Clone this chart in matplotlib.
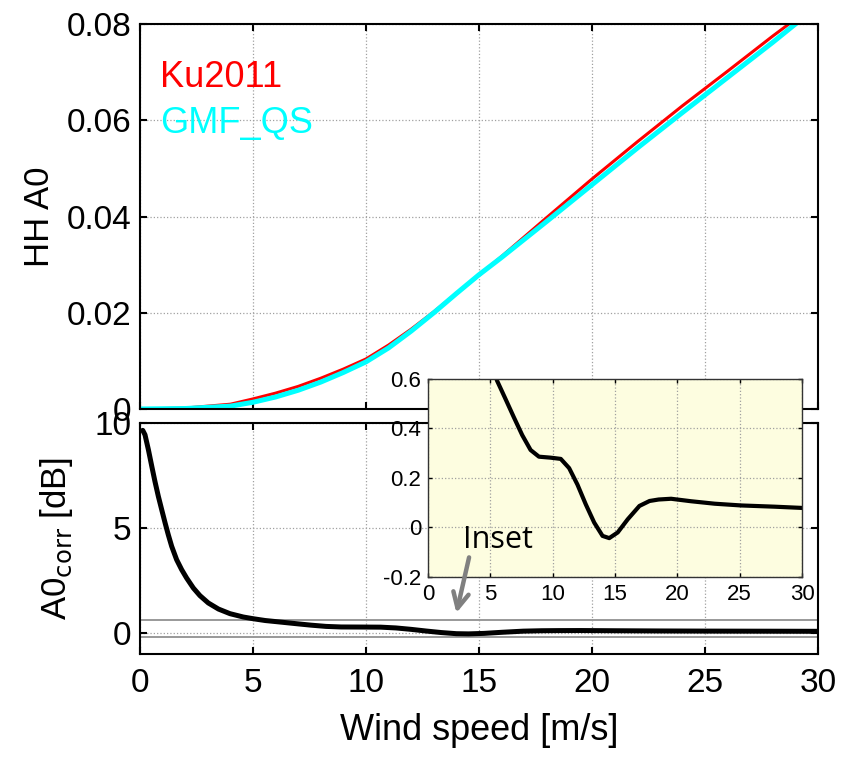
import matplotlib
matplotlib.use("Agg")
import matplotlib.pyplot as plt

plt.rcParams["font.family"] = ["Liberation Sans", "DejaVu Sans"]

# HH A0 coefficient vs wind speed
wind_hh = [0, 2, 4, 5, 6, 7, 8, 9, 10, 11, 12, 13, 14, 15, 16, 18, 20, 22, 24, 26, 28, 29, 30]
a0_ku2011 = [0.0, 0.0002, 0.0010, 0.0021, 0.0033, 0.0047, 0.0064, 0.0083, 0.0104, 0.0133,
             0.0166, 0.0202, 0.0240, 0.0278, 0.0317, 0.0398, 0.0478, 0.0555, 0.0630, 0.0702,
             0.0775, 0.0810, 0.0845]
a0_gmf_qs = [0.0, 0.0001, 0.0006, 0.0014, 0.0025, 0.0039, 0.0056, 0.0076, 0.0098, 0.0127,
             0.0162, 0.0200, 0.0240, 0.0279, 0.0315, 0.0390, 0.0466, 0.0542, 0.0616, 0.0689,
             0.0762, 0.0800, 0.0835]

# A0 correction [dB]
wind_corr = [0.12, 0.22, 0.37, 0.52, 0.66, 0.81, 0.96, 1.11, 1.25, 1.4, 1.62, 1.84, 2.06,
             2.36, 2.65, 3.02, 3.47, 3.98, 4.57, 5.0, 5.54, 6.21, 6.88, 7.56, 8.23, 8.9,
             9.84, 10.65, 11.32, 11.99, 12.66, 13.33, 14.0, 14.54, 15.22, 16.02, 16.96,
             17.77, 18.5, 19.5, 21.1, 23.0, 25.1, 27.8, 30.0]
a0_corr = [9.65, 9.44, 8.73, 7.94, 7.22, 6.51, 5.87, 5.24, 4.68, 4.13, 3.49, 3.02, 2.62,
           2.14, 1.78, 1.43, 1.14, 0.92, 0.76, 0.68, 0.593, 0.52, 0.446, 0.373, 0.313, 0.286,
           0.282, 0.277, 0.24, 0.173, 0.093, 0.02, -0.034, -0.043, -0.02, 0.033, 0.087,
           0.107, 0.113, 0.116, 0.106, 0.096, 0.089, 0.084, 0.079]

inset_range = [-0.2, 0.6]

x_ticks = [0, 5, 10, 15, 20, 25, 30]
hh_ticks = [0, 0.02, 0.04, 0.06, 0.08]
hh_labels = ["0", "0.02", "0.04", "0.06", "0.08"]
corr_ticks = [0, 5, 10]
inset_yticks = [-0.2, 0, 0.2, 0.4, 0.6]
inset_ylabels = ["-0.2", "0", "0.2", "0.4", "0.6"]


def matlab_style(ax, labelsize, width=1.5):
    ax.grid(True, linestyle=":", color="#a0a0a0", linewidth=0.9)
    ax.tick_params(axis="both", which="major", direction="in", top=True, right=True,
                   labelsize=labelsize, length=5, width=width, pad=6)
    for s in ax.spines.values():
        s.set_linewidth(width)


fig = plt.figure(figsize=(8.42, 7.57), dpi=100)

ax1 = fig.add_axes([0.1663, 0.4597, 0.8052, 0.5086])
ax1.plot(wind_hh, a0_ku2011, color="red", linewidth=2.2, solid_joinstyle="round")
ax1.plot(wind_hh, a0_gmf_qs, color="cyan", linewidth=3.6, solid_joinstyle="round")
ax1.set_xlim(0, 30)
ax1.set_ylim(0, 0.08)
ax1.set_xticks(x_ticks)
ax1.set_xticklabels([])
ax1.set_yticks(hh_ticks)
ax1.set_yticklabels(hh_labels)
ax1.set_ylabel("HH A0", fontsize=25, labelpad=8)
matlab_style(ax1, 24)
ax1.text(0.9, 0.0669, "Ku2011", color="red", fontsize=26)
ax1.text(0.9, 0.0574, "GMF_QS", color="cyan", fontsize=26)

ax2 = fig.add_axes([0.1663, 0.1361, 0.8052, 0.3051])
for lvl in inset_range:
    ax2.axhline(lvl, color="#999999", linewidth=1.4)
ax2.plot(wind_corr, a0_corr, color="black", linewidth=3.6,
         solid_joinstyle="round", solid_capstyle="round")
ax2.set_xlim(0, 30)
ax2.set_ylim(-1, 10)
ax2.set_xticks(x_ticks)
ax2.set_yticks(corr_ticks)
ax2.set_xlabel("Wind speed [m/s]", fontsize=26, labelpad=10)
ax2.set_ylabel(r"A0$_{\mathrm{corr}}$ [dB]", fontsize=25, labelpad=14)
matlab_style(ax2, 24)
ax2.tick_params(axis="x", pad=10)

# zoomed view of the correction
ax3 = fig.add_axes([0.5083, 0.2378, 0.4442, 0.2616])
ax3.set_facecolor("#fdfde0")
ax3.plot(wind_corr, a0_corr, color="black", linewidth=3.0,
         solid_joinstyle="round", solid_capstyle="round")
ax3.set_xlim(0, 30)
ax3.set_ylim(inset_range)
ax3.set_xticks(x_ticks)
ax3.set_yticks(inset_yticks)
ax3.set_yticklabels(inset_ylabels)
matlab_style(ax3, 16, width=1.0)
ax3.tick_params(axis="both", length=3, pad=5)
for s in ax3.spines.values():
    s.set_color("#333333")

ax3.annotate("", xy=(14.0, 0.95), xytext=(14.56, 3.6),
             xycoords=ax2.transData, textcoords=ax2.transData, annotation_clip=False,
             arrowprops=dict(arrowstyle="->", color="#808080", lw=3.2,
                             mutation_scale=28, shrinkA=0, shrinkB=0))
ax3.text(14.3, 4.05, "Inset", transform=ax2.transData, fontsize=22,
         family=["Open Sans", "DejaVu Sans"], color="black")

fig.savefig("out.png", dpi=100)
